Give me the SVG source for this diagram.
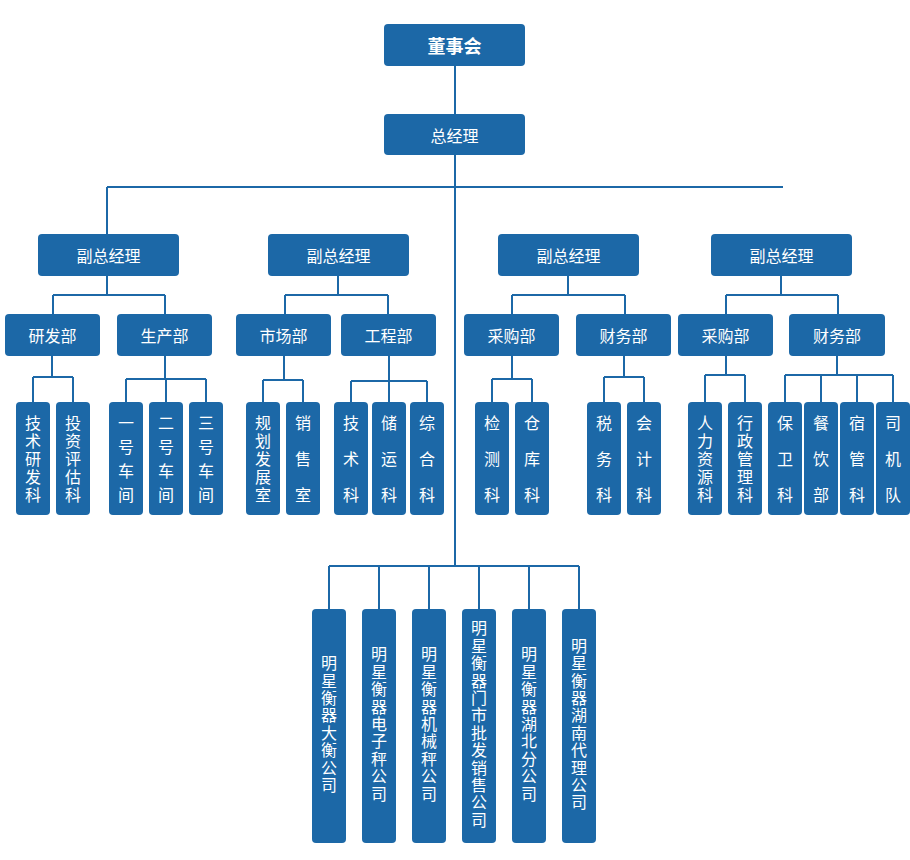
<svg xmlns="http://www.w3.org/2000/svg" width="910" height="860" viewBox="0 0 910 860">
<style>
.b{fill:#1c68a7}
.t{fill:#fff;font-family:"Noto Sans CJK SC","Microsoft YaHei",sans-serif;font-size:16px;text-anchor:middle;dominant-baseline:central}
.v{writing-mode:vertical-rl;text-orientation:upright}
.v5{letter-spacing:2px}
.v4{letter-spacing:8px}
.v3{letter-spacing:20px}
.vc{letter-spacing:1.4px}
.c{stroke:#1c68a7;stroke-width:2;fill:none}
</style>
<rect width="910" height="860" fill="#fff"/>
<g id="connectors" class="c">
<path d="M455 66V114M455 155V566M107 187H783M107 187V234"/>
<path d="M107 276V295M53 295H165M53 295V314M165 295V314"/>
<path d="M338 276V295M285 295H388M285 295V314M388 295V314"/>
<path d="M568 276V295M512 295H625M512 295V314M625 295V314"/>
<path d="M781 276V295M726 295H838M726 295V314M838 295V314"/>
<path d="M52 356V377M33 377H73M33 377V402M73 377V402"/>
<path d="M165 356V379M126 379H206M126 379V402M166 379V402M206 379V402"/>
<path d="M284 356V380M263 380H303M263 380V402M303 380V402"/>
<path d="M389 356V381M351 381H427M351 381V402M389 381V402M427 381V402"/>
<path d="M512 356V379M492 379H532M492 379V402M532 379V402"/>
<path d="M624 356V377M604 377H644M604 377V402M644 377V402"/>
<path d="M726 356V375M705 375H745M705 375V402M745 375V402"/>
<path d="M837 356V375M785 375H893M785 375V402M821 375V402M857 375V402M893 375V402"/>
<path d="M329 566H579M329 566V609M379 566V609M429 566V609M479 566V609M529 566V609M579 566V609"/>
</g>
<g id="n_board"><rect class="b" x="384" y="24" width="141" height="42" rx="4"/><text class="t" x="454.5" y="45" style="font-size:18px;font-weight:bold">董事会</text></g>
<g id="n_gm"><rect class="b" x="384" y="114" width="141" height="41" rx="4"/><text class="t" x="454.5" y="134.5">总经理</text></g>
<g id="n_vp1"><rect class="b" x="38" y="234" width="141" height="42" rx="4"/><text class="t" x="108.5" y="255">副总经理</text></g>
<g id="n_vp2"><rect class="b" x="268" y="234" width="141" height="42" rx="4"/><text class="t" x="338.5" y="255">副总经理</text></g>
<g id="n_vp3"><rect class="b" x="498" y="234" width="141" height="42" rx="4"/><text class="t" x="568.5" y="255">副总经理</text></g>
<g id="n_vp4"><rect class="b" x="711" y="234" width="141" height="42" rx="4"/><text class="t" x="781.5" y="255">副总经理</text></g>
<g id="n_d1"><rect class="b" x="5" y="314" width="95" height="42" rx="4"/><text class="t" x="52.5" y="335">研发部</text></g>
<g id="n_d2"><rect class="b" x="117" y="314" width="95" height="42" rx="4"/><text class="t" x="164.5" y="335">生产部</text></g>
<g id="n_d3"><rect class="b" x="236" y="314" width="95" height="42" rx="4"/><text class="t" x="283.5" y="335">市场部</text></g>
<g id="n_d4"><rect class="b" x="341" y="314" width="95" height="42" rx="4"/><text class="t" x="388.5" y="335">工程部</text></g>
<g id="n_d5"><rect class="b" x="464" y="314" width="95" height="42" rx="4"/><text class="t" x="511.5" y="335">采购部</text></g>
<g id="n_d6"><rect class="b" x="576" y="314" width="95" height="42" rx="4"/><text class="t" x="623.5" y="335">财务部</text></g>
<g id="n_d7"><rect class="b" x="678" y="314" width="95" height="42" rx="4"/><text class="t" x="725.5" y="335">采购部</text></g>
<g id="n_d8"><rect class="b" x="789" y="314" width="96" height="42" rx="4"/><text class="t" x="837" y="335">财务部</text></g>

<g id="n_s1"><rect class="b" x="16" y="402" width="34" height="113" rx="4"/><text class="t v v5" x="33" y="460">技术研发科</text></g>
<g id="n_s2"><rect class="b" x="56" y="402" width="34" height="113" rx="4"/><text class="t v v5" x="73" y="460">投资评估科</text></g>
<g id="n_s3"><rect class="b" x="109" y="402" width="34" height="113" rx="4"/><text class="t v v4" x="126" y="463">一号车间</text></g>
<g id="n_s4"><rect class="b" x="149" y="402" width="34" height="113" rx="4"/><text class="t v v4" x="166" y="463">二号车间</text></g>
<g id="n_s5"><rect class="b" x="189" y="402" width="34" height="113" rx="4"/><text class="t v v4" x="206" y="463">三号车间</text></g>
<g id="n_s6"><rect class="b" x="246" y="402" width="34" height="113" rx="4"/><text class="t v v5" x="263" y="460">规划发展室</text></g>
<g id="n_s7"><rect class="b" x="286" y="402" width="34" height="113" rx="4"/><text class="t v v3" x="303" y="469">销售室</text></g>
<g id="n_s8"><rect class="b" x="334" y="402" width="34" height="113" rx="4"/><text class="t v v3" x="351" y="469">技术科</text></g>
<g id="n_s9"><rect class="b" x="372" y="402" width="34" height="113" rx="4"/><text class="t v v3" x="389" y="469">储运科</text></g>
<g id="n_s10"><rect class="b" x="410" y="402" width="34" height="113" rx="4"/><text class="t v v3" x="427" y="469">综合科</text></g>
<g id="n_s11"><rect class="b" x="475" y="402" width="34" height="113" rx="4"/><text class="t v v3" x="492" y="469">检测科</text></g>
<g id="n_s12"><rect class="b" x="515" y="402" width="34" height="113" rx="4"/><text class="t v v3" x="532" y="469">仓库科</text></g>
<g id="n_s13"><rect class="b" x="587" y="402" width="34" height="113" rx="4"/><text class="t v v3" x="604" y="469">税务科</text></g>
<g id="n_s14"><rect class="b" x="627" y="402" width="34" height="113" rx="4"/><text class="t v v3" x="644" y="469">会计科</text></g>
<g id="n_s15"><rect class="b" x="688" y="402" width="34" height="113" rx="4"/><text class="t v v5" x="705" y="460">人力资源科</text></g>
<g id="n_s16"><rect class="b" x="728" y="402" width="34" height="113" rx="4"/><text class="t v v5" x="745" y="460">行政管理科</text></g>
<g id="n_s17"><rect class="b" x="768" y="402" width="34" height="113" rx="4"/><text class="t v v3" x="785" y="469">保卫科</text></g>
<g id="n_s18"><rect class="b" x="804" y="402" width="34" height="113" rx="4"/><text class="t v v3" x="821" y="469">餐饮部</text></g>
<g id="n_s19"><rect class="b" x="840" y="402" width="34" height="113" rx="4"/><text class="t v v3" x="857" y="469">宿管科</text></g>
<g id="n_s20"><rect class="b" x="876" y="402" width="34" height="113" rx="4"/><text class="t v v3" x="893" y="469">司机队</text></g>

<g id="n_c1"><rect class="b" x="312" y="609" width="34" height="234" rx="4"/><text class="t v vc" x="329" y="724.7">明星衡器大衡公司</text></g>
<g id="n_c2"><rect class="b" x="362" y="609" width="34" height="234" rx="4"/><text class="t v vc" x="379" y="724.7">明星衡器电子秤公司</text></g>
<g id="n_c3"><rect class="b" x="412" y="609" width="34" height="234" rx="4"/><text class="t v vc" x="429" y="724.7">明星衡器机械秤公司</text></g>
<g id="n_c4"><rect class="b" x="462" y="609" width="34" height="234" rx="4"/><text class="t v vc" x="479" y="724.7">明星衡器门市批发销售公司</text></g>
<g id="n_c5"><rect class="b" x="512" y="609" width="34" height="234" rx="4"/><text class="t v vc" x="529" y="724.7">明星衡器湖北分公司</text></g>
<g id="n_c6"><rect class="b" x="562" y="609" width="34" height="234" rx="4"/><text class="t v vc" x="579" y="724.7">明星衡器湖南代理公司</text></g>
</svg>
